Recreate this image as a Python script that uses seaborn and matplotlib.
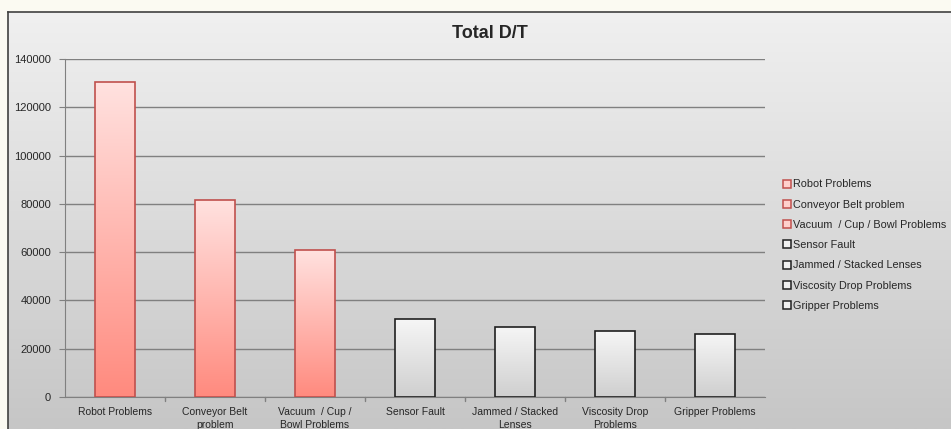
import numpy as np
import pandas as pd
import matplotlib
matplotlib.use("Agg")
import matplotlib.pyplot as plt
from matplotlib.lines import Line2D
import seaborn as sns

causes = ["Robot Problems", "Conveyor Belt problem", "Vacuum  / Cup / Bowl Problems",
          "Sensor Fault", "Jammed / Stacked Lenses", "Viscosity Drop Problems",
          "Gripper Problems"]
tick_labels = ["Robot Problems", "Conveyor Belt\nproblem", "Vacuum  / Cup /\nBowl Problems",
               "Sensor Fault", "Jammed / Stacked\nLenses", "Viscosity Drop\nProblems",
               "Gripper Problems"]
downtime = [130500, 81600, 60900, 32300, 29000, 27300, 26300]
highlight = [True, True, True, False, False, False, False]

df = pd.DataFrame({"cause": causes, "dt": downtime, "hot": highlight})

sns.set_style("white")
plt.rcParams["font.family"] = ["Liberation Sans", "DejaVu Sans"]

fig = plt.figure(figsize=(9.51, 4.29), dpi=100)
fig.patch.set_facecolor("#fbfaf2")

# chart area background: grey vertical gradient inside a framed box
bg = fig.add_axes([8 / 951, 0, 1 - 8 / 951, 1 - 12 / 429])
grad = np.linspace(0, 1, 256).reshape(-1, 1)
bg.imshow(grad, aspect="auto", cmap=matplotlib.colors.LinearSegmentedColormap.from_list(
    "bg", ["#f0f0f0", "#c6c6c6"]), extent=[0, 1, 0, 1], origin="upper")
bg.set_xlim(0, 1)
bg.set_ylim(0, 1)
bg.set_xticks([])
bg.set_yticks([])
for side, s in bg.spines.items():
    s.set_color("#404040")
    s.set_linewidth(1.2)
    if side in ("right", "bottom"):
        s.set_visible(False)

ax = fig.add_axes([65 / 951, 1 - 397 / 429, 700 / 951, 338 / 429])
ax.set_facecolor("none")

edge = {c: ("#c0504d" if h else "#202020") for c, h in zip(causes, highlight)}
sns.barplot(data=df, x="cause", y="dt", hue="cause", palette=edge, legend=False,
            width=0.4, ax=ax, zorder=3)

red_cmap = matplotlib.colors.LinearSegmentedColormap.from_list("r", ["#ffe2e0", "#ff8a7e"])
grey_cmap = matplotlib.colors.LinearSegmentedColormap.from_list("g", ["#f6f6f6", "#cfcfcf"])
for patch, h in zip(ax.patches, highlight):
    x0, y0 = patch.get_x(), patch.get_y()
    w, hgt = patch.get_width(), patch.get_height()
    patch.set_facecolor("none")
    patch.set_edgecolor("#c0504d" if h else "#202020")
    patch.set_linewidth(1.2)
    im = ax.imshow(grad, aspect="auto", cmap=red_cmap if h else grey_cmap,
                   extent=[x0, x0 + w, y0, y0 + hgt], origin="upper", zorder=2)
    im.set_clip_path(patch)

ax.set_xlim(-0.5, 6.5)
ax.set_ylim(0, 140000)
ax.set_yticks(np.arange(0, 140001, 20000))
ax.set_yticklabels([str(v) for v in range(0, 140001, 20000)], fontsize=8)
ax.set_xticks(range(7))
ax.set_xticklabels(tick_labels, fontsize=7.5, linespacing=1.4)
ax.yaxis.grid(True, color="#808080", linewidth=1)
ax.set_axisbelow(True)
ax.set_xlabel("")
ax.set_ylabel("")
ax.tick_params(axis="y", length=4, color="#808080", direction="out", left=True, pad=6)
ax.tick_params(axis="x", length=0, pad=7)
for v in np.arange(0.5, 6.5, 1):
    ax.plot([v, v], [0, -1500], color="#808080", lw=1, clip_on=False)
for side in ["top", "right"]:
    ax.spines[side].set_visible(False)
ax.spines["left"].set_color("#808080")
ax.spines["bottom"].set_color("#808080")

fig.text(490 / 951, 1 - 34 / 429, "Total D/T", ha="center", va="center",
         fontsize=13, fontweight="bold")

handles = [Line2D([0], [0], marker="s", linestyle="none", markersize=5.5,
                  markerfacecolor="#ffd0cc" if h else "#f0f0f0",
                  markeredgecolor="#c0504d" if h else "#202020", markeredgewidth=1.1)
           for h in highlight]
fig.legend(handles, causes, loc="upper left", bbox_to_anchor=(777 / 951, 1 - 175 / 429),
           frameon=False, fontsize=7.8, handletextpad=0.05, labelspacing=0.95,
           handlelength=1.0, borderaxespad=0)

fig.savefig("out.png", dpi=100)
